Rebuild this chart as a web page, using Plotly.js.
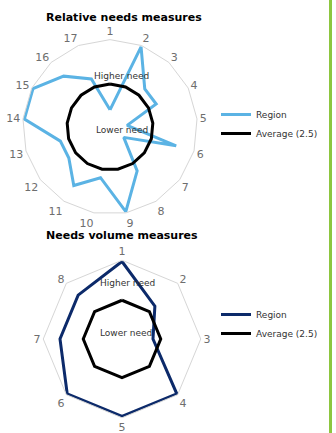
<!DOCTYPE html>
<html>
<head>
<meta charset="utf-8">
<script src="https://cdn.plot.ly/plotly-3.0.1.min.js"></script>
<style>
  html, body { margin: 0; padding: 0; background: #fff; }
  #chart { width: 336px; height: 433px; }
</style>
</head>
<body>
<div id="chart"></div>
<script>
const RELATIVE_CATS = ["1", "2", "3", "4", "5", "6", "7", "8", "9", "10", "11", "12", "13", "14", "15", "16", "17"];
const RELATIVE_REGION = [1, 5, 3, 3, 1, 4, 1, 3, 5, 3, 4, 3, 3, 5, 5, 4, 3];

const VOLUME_CATS = ["1", "2", "3", "4", "5", "6", "7", "8"];
const VOLUME_REGION = [5, 3, 2, 5, 5, 5, 4, 4];

const AVERAGE = 2.5;
// a hair above 5 so the lines on the rim are not clipped in half
const RANGE_MAX = 5.08;

const LIGHT_BLUE = "#5bb3e4";
const NAVY = "#0c2a6a";
const FONT = "DejaVu Sans, Verdana, sans-serif";

// close the loop by repeating the first point
const closed = (arr) => arr.concat([arr[0]]);

function regionTrace(cats, vals, color, polar, legend) {
    return {
        type: "scatterpolar", mode: "lines",
        r: closed(vals), theta: closed(cats),
        name: "Region", subplot: polar, legend,
        line: { color, width: 3 },
        hoverinfo: "skip",
    };
}

function averageTrace(cats, polar, legend) {
    return {
        type: "scatterpolar", mode: "lines",
        r: closed(cats.map(() => AVERAGE)), theta: closed(cats),
        name: "Average (2.5)", subplot: polar, legend,
        line: { color: "#000", width: 3 },
        hoverinfo: "skip",
    };
}

const traces = [
    regionTrace(RELATIVE_CATS, RELATIVE_REGION, LIGHT_BLUE, "polar", "legend"),
    averageTrace(RELATIVE_CATS, "polar", "legend"),
    regionTrace(VOLUME_CATS, VOLUME_REGION, NAVY, "polar2", "legend2"),
    averageTrace(VOLUME_CATS, "polar2", "legend2"),
];

const W = 336, H = 433;
const px = (v) => v / W;
const py = (v) => 1 - v / H;

// square domain around a centre, radius given for the value 5
function squareDomain(cx, cy, r5) {
    const r = r5 * RANGE_MAX / 5;
    return { x: [px(cx - r), px(cx + r)], y: [py(cy + r), py(cy - r)] };
}

function polarLayout(domain, cats) {
    return {
        domain,
        gridshape: "linear",
        bgcolor: "rgba(0,0,0,0)",
        radialaxis: { range: [0, RANGE_MAX], visible: false },
        angularaxis: {
            type: "category",
            categoryorder: "array", categoryarray: cats,
            rotation: 90, direction: "clockwise",
            showgrid: false, showline: true,
            linecolor: "#d6d6d6", linewidth: 1,
            ticks: "",
            tickfont: { size: 11, color: "#6e6e6e", family: FONT },
        },
    };
}

const legendBase = {
    xanchor: "left", yanchor: "top",
    bgcolor: "rgba(0,0,0,0)",
    font: { size: 9, color: "#333", family: FONT },
    itemwidth: 30,
    tracegroupgap: 0,
};

function label(text, x, y, opts = {}) {
    return Object.assign({
        text, x: px(x), y: py(y), xref: "paper", yref: "paper",
        showarrow: false, xanchor: "center", yanchor: "middle",
        font: { size: 9, color: "#333", family: FONT },
    }, opts);
}

const layout = {
    width: W, height: H,
    margin: { t: 0, b: 0, l: 0, r: 0 },
    paper_bgcolor: "#fff",
    font: { family: FONT },
    polar: polarLayout(squareDomain(110, 127, 86), RELATIVE_CATS),
    polar2: polarLayout(squareDomain(122, 339, 77.5), VOLUME_CATS),
    legend: Object.assign({}, legendBase, { x: px(216), y: py(100) }),
    legend2: Object.assign({}, legendBase, { x: px(216), y: py(300) }),
    annotations: [
        label("<b>Relative needs measures</b>", 124, 17, { font: { size: 11, color: "#000", family: FONT } }),
        label("<b>Needs volume measures</b>", 122, 235, { font: { size: 11, color: "#000", family: FONT } }),
        label("Higher need", 121, 76),
        label("Lower need", 122, 130),
        label("Higher need", 127, 283),
        label("Lower need", 126, 333),
    ],
    shapes: [{
        type: "line", xref: "paper", yref: "paper",
        x0: px(330.5), x1: px(330.5), y0: 0, y1: 1,
        line: { color: "#8dc63f", width: 3 },
    }],
};

Plotly.newPlot("chart", traces, layout, { displayModeBar: false, staticPlot: true });
</script>
</body>
</html>
